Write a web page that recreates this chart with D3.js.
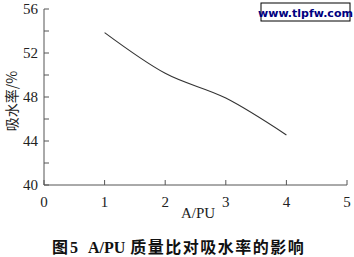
<!DOCTYPE html>
<html><head><meta charset="utf-8">
<script src="https://cdn.jsdelivr.net/npm/d3@7"></script>
<style>body{margin:0;background:#fff}svg{display:block}</style>
</head><body>
<script>
const categories = [1, 2, 3, 4];
const values = [53.85, 50.15, 47.9, 44.55];
const xTicks = [0, 1, 2, 3, 4, 5];
const yTicks = [40, 44, 48, 52, 56];
const yMinor = [42, 46, 50, 54];

const W = 354, H = 257;
const svg = d3.select("body").append("svg").attr("width", W).attr("height", H);
const x = d3.scaleLinear().domain([0, 5]).range([44, 347]);
const y = d3.scaleLinear().domain([40, 56]).range([185, 9]);
const serif = "'Liberation Serif','Times New Roman',serif";
const cjk = "'Noto Sans CJK SC',sans-serif";
const axisColor = "#555";

// axes lines
svg.append("line").attr("x1", x(0)).attr("x2", x(5)).attr("y1", y(40)).attr("y2", y(40)).attr("stroke", axisColor).attr("stroke-width", 1);
svg.append("line").attr("x1", x(0)).attr("x2", x(0)).attr("y1", y(40)).attr("y2", y(56)).attr("stroke", axisColor).attr("stroke-width", 1);

// x ticks (inward)
xTicks.forEach(t => {
  svg.append("line").attr("x1", x(t)).attr("x2", x(t)).attr("y1", y(40)).attr("y2", y(40) - 5).attr("stroke", axisColor);
  svg.append("text").attr("x", x(t)).attr("y", 207).attr("text-anchor", "middle")
    .attr("font-family", serif).attr("font-size", 15).attr("fill", "#222").text(t);
});
// y ticks
yTicks.forEach(t => {
  svg.append("line").attr("x1", x(0)).attr("x2", x(0) + 5).attr("y1", y(t)).attr("y2", y(t)).attr("stroke", axisColor);
  svg.append("text").attr("x", 38).attr("y", y(t) + 5).attr("text-anchor", "end")
    .attr("font-family", serif).attr("font-size", 15).attr("fill", "#222").text(t);
});
yMinor.forEach(t => {
  svg.append("line").attr("x1", x(0)).attr("x2", x(0) + 5).attr("y1", y(t)).attr("y2", y(t)).attr("stroke", axisColor);
});

// line
const line = d3.line().x((d, i) => x(categories[i])).y(d => y(d)).curve(d3.curveMonotoneX);
svg.append("path").datum(values).attr("d", line).attr("fill", "none").attr("stroke", "#333").attr("stroke-width", 1.1);

// axis labels
svg.append("text").attr("x", 198).attr("y", 218).attr("text-anchor", "middle")
  .attr("font-family", serif).attr("font-size", 15).attr("fill", "#222").text("A/PU");
svg.append("text").attr("transform", "translate(17,101) rotate(-90)").attr("text-anchor", "middle")
  .attr("font-family", cjk).attr("font-size", 14).attr("fill", "#222").text("吸水率/%");

// caption
const cap = svg.append("text").attr("x", 52).attr("y", 253)
  .attr("font-weight", "bold").attr("font-size", 16).attr("fill", "#111");
cap.append("tspan").attr("font-family", cjk).text("图");
cap.append("tspan").attr("font-family", serif).attr("dx", 2).text("5");
cap.append("tspan").attr("font-family", serif).attr("dx", 10).text("A/PU");
cap.append("tspan").attr("font-family", cjk).attr("dx", 5).attr("letter-spacing", 1.5).text("质量比对吸水率的影响");

// watermark
svg.append("rect").attr("x", 261).attr("y", 3).attr("width", 89).attr("height", 18).attr("fill", "#fff").attr("stroke", "#000").attr("stroke-width", 1);
svg.append("text").attr("x", 305.5).attr("y", 17).attr("text-anchor", "middle")
  .attr("font-family", "'DejaVu Sans',Verdana,sans-serif").attr("font-weight", "bold").attr("font-size", 11).attr("fill", "#000080").text("www.tlpfw.com");
</script>
</body></html>
